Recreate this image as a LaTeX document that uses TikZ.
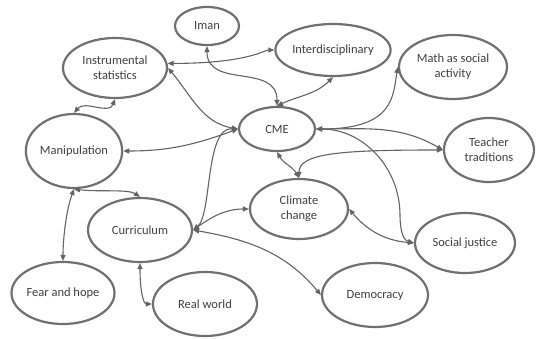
\documentclass[tikz,border=0pt]{standalone}
\usepackage{fontspec}
\setmainfont{Carlito}
\usetikzlibrary{shapes.geometric, arrows.meta}

\definecolor{rimgray}{RGB}{112,112,112}
\definecolor{linkgray}{RGB}{100,100,100}
\definecolor{labelgray}{RGB}{64,64,64}

\tikzset{
  topic/.style={ellipse, draw=rimgray, line width=2.2pt, inner sep=0pt,
    align=center, text=labelgray, font=\fontsize{12.5}{15}\selectfont},
  link/.style={draw=linkgray, line width=1.1pt,
    {Triangle[length=6pt,width=5pt]}-{Triangle[length=6pt,width=5pt]}},
}

\begin{document}
\begin{tikzpicture}[x=1pt, y=1pt]
\useasboundingbox (0,0) rectangle (536,338);

% concepts
\node[topic, minimum width=64pt, minimum height=38pt] (iman)    at (207,312) {Iman};
\node[topic, minimum width=104pt, minimum height=60pt] (instr)  at (115,270) {Instrumental\\statistics};
\node[topic, minimum width=112pt, minimum height=52pt] (interd) at (333,288) {Interdisciplinary};
\node[topic, minimum width=108pt, minimum height=64pt] (math)   at (453,271) {Math as social\\activity};
\node[topic, minimum width=76pt, minimum height=44pt] (cme)     at (277,209) {CME};
\node[topic, minimum width=90pt, minimum height=64pt] (teacher) at (489,188) {Teacher\\traditions};
\node[topic, minimum width=96pt, minimum height=74pt] (manip)   at (74,187) {Manipulation};
\node[topic, minimum width=98pt, minimum height=60pt] (climate) at (299,129) {Climate\\change};
\node[topic, minimum width=104pt, minimum height=64pt] (curric) at (140,108) {Curriculum};
\node[topic, minimum width=100pt, minimum height=60pt] (social) at (465,95) {Social justice};
\node[topic, minimum width=106pt, minimum height=64pt] (democ)  at (375,43) {Democracy};
\node[topic, minimum width=100pt, minimum height=62pt] (fear)   at (63,45) {Fear and hope};
\node[topic, minimum width=104pt, minimum height=64pt] (real)   at (205,34) {Real world};

\coordinate (sjbend) at (400,123);

% links around CME
\draw[link] (iman.south) to[out=-90, in=90, looseness=1.2] (cme.north);
\draw[link] (interd.south) to[out=-135, in=25] (cme.north);
\draw[link] (instr.5) .. controls +(80,0) and +(-10,0) .. (interd.west);
\draw[link] (instr.0) to[out=-50, in=170] (cme.west);
\draw[link] (manip.north) to[out=50, in=-110] (instr.south);
\draw[link] (manip.east) to[out=0, in=200] (cme.west);
\draw[link] (curric.east) .. controls +(19,15) and +(-33,2) .. (cme.west);
\draw[link] (cme.east) .. controls +(79,0) and +(-5,-28) .. (math.west);
\draw[link] (cme.east) to[out=0, in=150] (teacher.west);
\draw[link] (cme.east) to[out=0, in=90] (sjbend) to[out=-90, in=165] (social.west);
\draw[link] (cme.south) to[out=-60, in=120] (climate.north);

% links around climate change and curriculum
\draw[link] (climate.north) .. controls +(0,25) and +(-100,0) .. (teacher.west);
\draw[link] (climate.east) to[out=-50, in=175] (social.west);
\draw[link] (curric.east) to[out=35, in=180] (climate.west);
\draw[link] (curric.east) to[out=-10, in=130] (democ.west);
\draw[link] (manip.south) .. controls +(25,-3) and +(-12,8) .. (curric.north);
\draw[link] (manip.south) to[out=-110, in=90, looseness=0.8] (fear.north);
\draw[link] (curric.south) .. controls +(0,-30) and +(-8,0) .. (real.west);
\end{tikzpicture}
\end{document}
